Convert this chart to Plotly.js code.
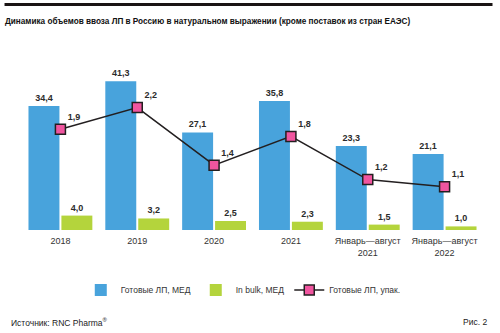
<!DOCTYPE html>
<html>
<head>
<meta charset="utf-8">
<script src="https://cdn.plot.ly/plotly-3.0.1.min.js"></script>
<style>html,body{margin:0;padding:0;background:#fff;}#chart{width:500px;height:333px;}</style>
</head>
<body>
<div id="chart"></div>
<script>
const categories = ["2018", "2019", "2020", "2021", "Январь—август<br>2021", "Январь—август<br>2022"];
const readyMed = [34.4, 41.3, 27.1, 35.8, 23.3, 21.1];
const bulkMed = [4.0, 3.2, 2.5, 2.3, 1.5, 1.0];
const readyPack = [1.9, 2.2, 1.4, 1.8, 1.2, 1.1];
const seriesNames = ["Готовые ЛП, МЕД", "In bulk, МЕД", "Готовые ЛП, упак."];

const FONT = "Liberation Sans, Arial, sans-serif";
const labelFont = {family: FONT, size: 9, color: "#2b2b2b", weight: "bold"};

const traces = [
  {
    type: "bar", x: categories, y: readyMed, name: seriesNames[0],
    marker: {color: "#48a3dc"},
    texttemplate: "%{y:.1f}", textposition: "outside", textfont: labelFont,
    cliponaxis: false, hoverinfo: "skip"
  },
  {
    type: "bar", x: categories, y: bulkMed, name: seriesNames[1],
    marker: {color: "#b4d43c"},
    texttemplate: "%{y:.1f}", textposition: "outside", textfont: labelFont,
    cliponaxis: false, hoverinfo: "skip"
  },
  {
    type: "scatter", mode: "lines+markers+text", x: categories, y: readyPack, name: seriesNames[2],
    yaxis: "y2",
    line: {color: "#231f20", width: 1.5},
    marker: {symbol: "square", size: 10, color: "#f0559f", line: {color: "#231f20", width: 1.5}},
    texttemplate: "%{y:.1f}", textposition: "top right", textfont: labelFont,
    cliponaxis: false, hoverinfo: "skip"
  }
];

const layout = {
  width: 500, height: 333,
  margin: {l: 21.5, r: 16.5, t: 60, b: 103},
  paper_bgcolor: "#fff", plot_bgcolor: "#fff",
  separators: ", ",
  font: {family: FONT, size: 9, color: "#333"},
  barmode: "group", bargap: 0.143, bargroupgap: 0.06,
  showlegend: true,
  title: {
    text: "Динамика объемов ввоза ЛП в Россию в натуральном выражении (кроме поставок из стран ЕАЭС)",
    font: {family: FONT, size: 8.2, color: "#111", weight: "bold"},
    x: 0.01, xanchor: "left", xref: "container", y: 1 - 21/333, yanchor: "middle", yref: "container"
  },
  xaxis: {
    type: "category",
    showgrid: false, zeroline: false, showline: false, ticks: "",
    ticklabelstandoff: 4,
    tickfont: {family: FONT, size: 9, color: "#333"}, fixedrange: true
  },
  yaxis: {range: [0, 47.2], visible: false, fixedrange: true},
  yaxis2: {range: [0.5, 2.861], overlaying: "y", side: "right", visible: false, fixedrange: true},
  legend: {
    orientation: "h", x: 0.48, xanchor: "center", y: -0.353, yanchor: "middle",
    font: {family: FONT, size: 8.5, color: "#333"}, traceorder: "normal"
  },
  shapes: [
    {type: "line", xref: "paper", yref: "paper", x0: -0.0379, x1: 1.0206, y0: 1.3265, y1: 1.3265,
     line: {color: "#1a1414", width: 3}}
  ],
  annotations: [
    {text: "Источник: RNC Pharma<sup>®</sup>", xref: "paper", yref: "paper",
     x: (8 - 21.5)/462, xanchor: "left", y: (230 - 322)/170, yanchor: "middle",
     showarrow: false, font: {family: FONT, size: 8.5, color: "#222"}},
    {text: "Рис. 2", xref: "paper", yref: "paper",
     x: (490 - 21.5)/462, xanchor: "right", y: (230 - 322)/170, yanchor: "middle",
     showarrow: false, font: {family: FONT, size: 8.5, color: "#222"}}
  ]
};

Plotly.newPlot("chart", traces, layout, {displayModeBar: false, staticPlot: true});
</script>
</body>
</html>
